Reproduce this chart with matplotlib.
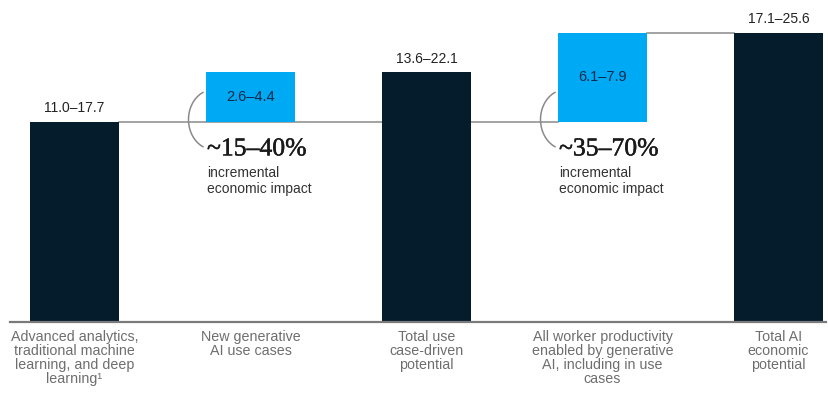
import matplotlib
matplotlib.use("Agg")
import numpy as np
import matplotlib.pyplot as plt
import matplotlib.patheffects as pe

plt.rcParams['font.family'] = ['Liberation Sans', 'DejaVu Sans']

# economic potential, $ trillion (ranges; bars drawn at the upper bound)
categories = [
    "Advanced analytics,\ntraditional machine\nlearning, and deep\nlearning\u00b9",
    "New generative\nAI use cases",
    "Total use\ncase-driven\npotential",
    "All worker productivity\nenabled by generative\nAI, including in use\ncases",
    "Total AI\neconomic\npotential",
]
low_values = [11.0, 2.6, 13.6, 6.1, 17.1]
high_values = [17.7, 4.4, 22.1, 7.9, 25.6]
is_increment = [False, True, False, True, False]
# increments sit on top of the analytics bar
increment_base = [0, 0, 0, 0, 0]
increment_base[1] = high_values[0]
increment_base[3] = high_values[0]
impact_labels = {1: "~15\u201340%", 3: "~35\u201370%"}

DARK = "#051C2C"
BLUE = "#00A9F4"
LINE = "#8a8a8a"

fig = plt.figure(figsize=(8.29, 3.99), dpi=100)
ax = fig.add_axes([0, 0, 1, 1])
ax.set_xlim(-0.423, 4.287)
ax.set_ylim(-6.81, 28.5)
ax.axis('off')

width = 0.506
xs = list(range(len(categories)))

for i, x in enumerate(xs):
    label = f"{low_values[i]:.1f}\u2013{high_values[i]:.1f}"
    if is_increment[i]:
        ax.bar(x, high_values[i], width=width, bottom=increment_base[i],
               color=BLUE, zorder=3)
        ax.text(x, increment_base[i] + high_values[i] / 2, label,
                ha='center', va='center', fontsize=10.5, color="#0b2a4a", zorder=4)
    else:
        ax.bar(x, high_values[i], width=width, color=DARK, zorder=3)
        ax.text(x, high_values[i] + 0.85, label, ha='center', va='baseline',
                fontsize=10, color="#222222", zorder=4)
    ax.text(x, -0.7, categories[i], ha='center', va='top', fontsize=10.3,
            color="#6e6e6e", linespacing=1.0)

# connector lines
ax.plot([xs[0] + width / 2, xs[3] - width / 2], [high_values[0]] * 2,
        color=LINE, lw=1.1, zorder=1)
ax.plot([xs[3] + width / 2, xs[4] - width / 2],
        [increment_base[3] + high_values[3]] * 2, color=LINE, lw=1.1, zorder=1)

# baseline
ax.plot([-0.366, 4.27], [0, 0], color="#7a7a7a", lw=1.6, zorder=5)

# incremental impact callouts: bracket arc + percentage + caption
t = np.radians(np.linspace(115, 245, 60))
for i, pct in impact_labels.items():
    base = increment_base[i]
    ax.plot(i - 0.21 + 0.142 * np.cos(t), base + 0.22 + 2.65 * np.sin(t),
            color=LINE, lw=1.1, zorder=2)
    ax.text(i - 0.247, base - 2.95, pct, ha='left', va='baseline',
            fontsize=18.5, family='Liberation Serif', color="#1a1a1a",
            path_effects=[pe.withStroke(linewidth=0.35, foreground="#1a1a1a")])
    ax.text(i - 0.247, base - 3.85, "incremental\neconomic impact", ha='left',
            va='top', fontsize=10, color="#333333", linespacing=1.26)

fig.savefig("out.png", dpi=100)
